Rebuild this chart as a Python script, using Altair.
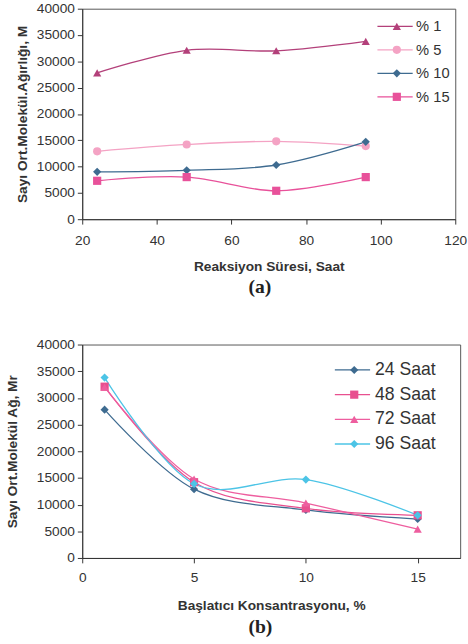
import altair as alt
import pandas as pd

# ---- data ----
hours = [24, 48, 72, 96]
concs = [1, 5, 10, 15]
conc_labels = ["% 1", "% 5", "% 10", "% 15"]
hour_labels = ["24 Saat", "48 Saat", "72 Saat", "96 Saat"]

# number-average molecular weight for each initiator concentration, at 24/48/72/96 h
mw_conc_1 = [27800, 32100, 32000, 33800]
mw_conc_5 = [12900, 14200, 14800, 13900]
mw_conc_10 = [9000, 9300, 10300, 14700]
mw_conc_15 = [7300, 8000, 5400, 8000]
by_conc = [mw_conc_1, mw_conc_5, mw_conc_10, mw_conc_15]

y_ticks = [0, 5000, 10000, 15000, 20000, 25000, 30000, 35000, 40000]
xa_ticks = [20, 40, 60, 80, 100, 120]
xb_ticks = [0, 5, 10, 15]

colors_a = ["#b3407a", "#f4a3c4", "#3e6b90", "#e8519a"]
shapes_a = ["triangle-up", "circle", "diamond", "square"]
colors_b = ["#3e6b90", "#e8508f", "#ee5e9f", "#4cc4e6"]
shapes_b = ["diamond", "square", "triangle-up", "diamond"]

# the marker layer uses keyed copies of the names so its (label-less) legend
# stays separate from the line legend and can sit on top of it
rows_a = []
rows_b = []
for i, vals in enumerate(by_conc):
    for j, h in enumerate(hours):
        rows_a.append({"x": h, "mw": vals[j], "sl": conc_labels[i], "s": "m" + conc_labels[i]})
        rows_b.append({"x": concs[i], "mw": vals[j], "sl": hour_labels[j], "s": "m" + hour_labels[j]})
df_a = pd.DataFrame(rows_a)
df_b = pd.DataFrame(rows_b)

FONT = "Liberation Sans"
TXT = "#333333"
LEG_SYM = 144          # legend row symbol box (12 px); the drawn line is 3x longer


def panel(df, domain, colors, shapes, xdom, xticks, xtitle, ytitle, w, h,
          leg_x, leg_y, leg_font, leg_row, ytitle_pad, xlab_pad, xtitle_pad,
          label, label_dx, label_off):
    mdomain = ["m" + d for d in domain]
    xax = alt.Axis(values=xticks, grid=False, labelFlush=False, domainColor="#333",
                   tickColor="#333", tickSize=5, labelPadding=xlab_pad, labelFont=FONT,
                   labelFontSize=14, labelColor=TXT, title=xtitle, titleFont=FONT,
                   titleFontSize=14, titleFontWeight="bold", titleColor=TXT,
                   titlePadding=xtitle_pad)
    yax = alt.Axis(values=y_ticks, format="d", grid=False, domainColor="#333",
                   tickColor="#333", tickSize=5, labelPadding=3, labelFont=FONT,
                   labelFontSize=14, labelColor=TXT, title=ytitle, titleFont=FONT,
                   titleFontSize=14, titleFontWeight="bold", titleColor=TXT,
                   titlePadding=ytitle_pad)
    X = alt.X("x:Q", scale=alt.Scale(domain=xdom, nice=False, zero=False), axis=xax)
    Y = alt.Y("mw:Q", scale=alt.Scale(domain=[0, 40000], nice=False), axis=yax)

    line_leg = alt.Legend(orient="none", legendX=leg_x, legendY=leg_y, title=None,
                          symbolType="M-3,0H3", symbolSize=LEG_SYM, symbolStrokeWidth=1.3,
                          labelFont=FONT, labelFontSize=leg_font, labelColor=TXT,
                          labelOffset=14, rowPadding=leg_row, padding=0)
    pt_leg = alt.Legend(orient="none", legendX=leg_x + 1.8, legendY=leg_y,
                        title=None, symbolSize=70, labelFont=FONT,
                        labelFontSize=leg_font, labelExpr="''", labelOffset=0,
                        rowPadding=leg_row, padding=0, symbolOpacity=1)

    base = alt.Chart(df)
    line = base.mark_line(interpolate="cardinal", strokeWidth=1.3).encode(
        x=X, y=Y,
        color=alt.Color("sl:N", scale=alt.Scale(domain=domain, range=colors), legend=line_leg),
    )
    pts = base.mark_point(filled=True, size=70, opacity=1).encode(
        x=X, y=Y,
        fill=alt.Fill("s:N", scale=alt.Scale(domain=mdomain, range=colors), legend=pt_leg),
        shape=alt.Shape("s:N", scale=alt.Scale(domain=mdomain, range=shapes), legend=pt_leg),
    )
    return alt.layer(line, pts).properties(
        width=w, height=h,
        title=alt.TitleParams(label, orient="bottom", frame="group", dx=label_dx,
                              font="Liberation Serif", fontSize=20, fontWeight="bold",
                              color="#222222", offset=label_off),
    )


chart_a = panel(df_a, conc_labels, colors_a, shapes_a, [20, 120], xa_ticks,
                "Reaksiyon Süresi, Saat", "Sayı Ort.Molekül.Ağırlığı, M",
                381, 215, 312, 10.5, 15, 8, 7, 10, 12, "(a)", -9, 4)
chart_b = panel(df_b, hour_labels, colors_b, shapes_b, [0, 16.9], xb_ticks,
                "Başlatıcı Konsantrasyonu, %", "Sayı Ort.Molekül Ağ, Mr",
                386, 218, 267, 17, 18, 7.2, 17, 8, 15, "(b)", -11, 5)

chart = alt.vconcat(chart_a, chart_b, spacing=40).resolve_scale(
    color="independent", fill="independent", shape="independent",
    x="independent", y="independent",
).resolve_legend(
    color="independent", fill="independent", shape="independent",
).properties(
    padding={"left": 5, "top": -6, "right": 0, "bottom": 0},
    background="white",
).configure_view(stroke="#555555", strokeWidth=1)

chart.save("out.html", embed_options={"renderer": "svg", "actions": False})
